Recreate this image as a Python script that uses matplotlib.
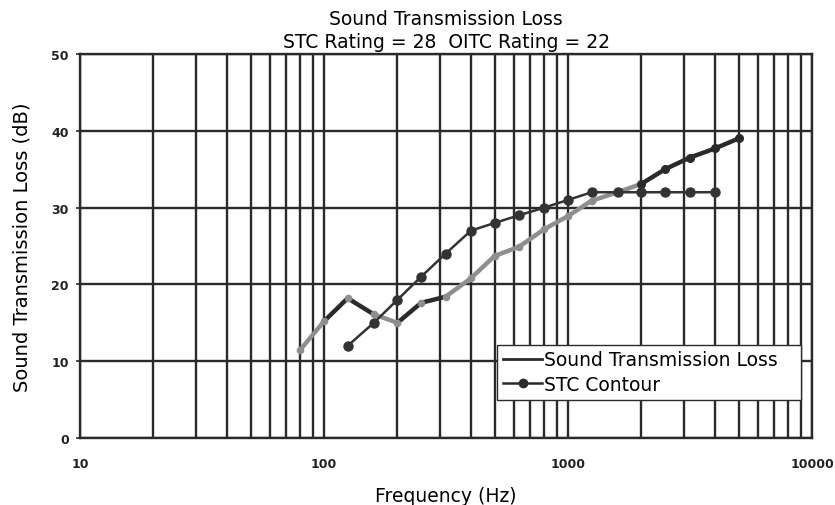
import numpy as np
import matplotlib.pyplot as plt
from matplotlib.ticker import LogLocator, NullFormatter, FixedLocator

# measured transmission loss (1/3 octave bands)
stl_freq = [80, 100, 125, 160, 200, 250, 315, 400, 500, 630, 800, 1000,
            1250, 1600, 2000, 2500, 3150, 4000, 5000]
stl_db = [11.5, 15.2, 18.2, 16.1, 15.0, 17.6, 18.4, 20.8, 23.7, 24.9, 27.2, 28.9,
          30.9, 32.0, 33.1, 35.0, 36.5, 37.7, 39.0]

# STC reference contour
stc_freq = [125, 160, 200, 250, 315, 400, 500, 630, 800, 1000, 1250,
            1600, 2000, 2500, 3150, 4000]
stc_db = [12, 15, 18, 21, 24, 27, 28, 29, 30, 31, 32, 32, 32, 32, 32, 32]

x_ticks = [10, 100, 1000, 10000]
y_ticks = [0, 10, 20, 30, 40, 50]

DARK = '#2a2a2a'
GRAY = '#8e8e8e'

fig = plt.figure(figsize=(8.35, 5.06), dpi=100)
ax = fig.add_axes([0.0958, 0.1324, 0.8767, 0.7589])

ax.set_xscale('log')
ax.set_xlim(10, 10000)
ax.set_ylim(0, 50)

# gridlines
ax.xaxis.set_major_locator(FixedLocator(x_ticks))
ax.xaxis.set_minor_locator(LogLocator(base=10, subs=np.arange(2, 10)))
ax.xaxis.set_minor_formatter(NullFormatter())
ax.set_xticklabels([str(t) for t in x_ticks])
ax.set_yticks(y_ticks)
ax.grid(True, which='both', axis='x', color=DARK, lw=1.7)
ax.grid(True, which='major', axis='y', color=DARK, lw=1.7)
for s in ax.spines.values():
    s.set_color(DARK)
    s.set_linewidth(1.7)
ax.tick_params(axis='x', which='both', length=0)
ax.tick_params(axis='x', labelsize=9, pad=14)
ax.tick_params(axis='y', labelsize=9, pad=5, length=3, width=1.2, color=DARK)
for lbl in ax.get_xticklabels() + ax.get_yticklabels():
    lbl.set_fontweight('bold')
    lbl.set_color('#222222')
ax.set_axisbelow(True)

# STL curve: the scan shows it partly light, partly dark
seg_dark = [False, True, True, False, True, True, False, False, False, False,
            False, False, False, False, True, True, True, True]
for i in range(len(stl_freq) - 1):
    c = DARK if seg_dark[i] else GRAY
    ax.plot(stl_freq[i:i + 2], stl_db[i:i + 2], color=c, lw=3.2,
            solid_capstyle='round', zorder=3)
ax.plot(stl_freq, stl_db, ls='none', marker='o', ms=4.5,
        color=GRAY, zorder=3)
ax.plot(stl_freq[14:], stl_db[14:], ls='none', marker='o', ms=5.5,
        color=DARK, zorder=3)
ax.plot(stc_freq, stc_db, color='#333333', lw=1.8, marker='o', ms=6.5, zorder=4)

# legend proxies
h1, = ax.plot([], [], color=DARK, lw=2)
h2, = ax.plot([], [], color=DARK, lw=1.8, marker='o', ms=6)
leg = ax.legend([h1, h2], ['Sound Transmission Loss', 'STC Contour'],
                loc='lower left', bbox_to_anchor=(0.57, 0.10, 0.415, 0.15),
                mode='expand', fontsize=13.5,
                handlelength=2.1, handletextpad=0.1, borderpad=0.3,
                labelspacing=0.3, borderaxespad=0,
                fancybox=False, framealpha=1, edgecolor=DARK)
leg.get_frame().set_linewidth(1.0)

ax.set_title('Sound Transmission Loss\nSTC Rating = 28  OITC Rating = 22',
             fontsize=13.5, pad=5, linespacing=1.3)
ax.set_xlabel('Frequency (Hz)', fontsize=13.5, labelpad=11)
ax.set_ylabel('Sound Transmission Loss (dB)', fontsize=14, labelpad=14)

fig.savefig('out.png', dpi=100)
